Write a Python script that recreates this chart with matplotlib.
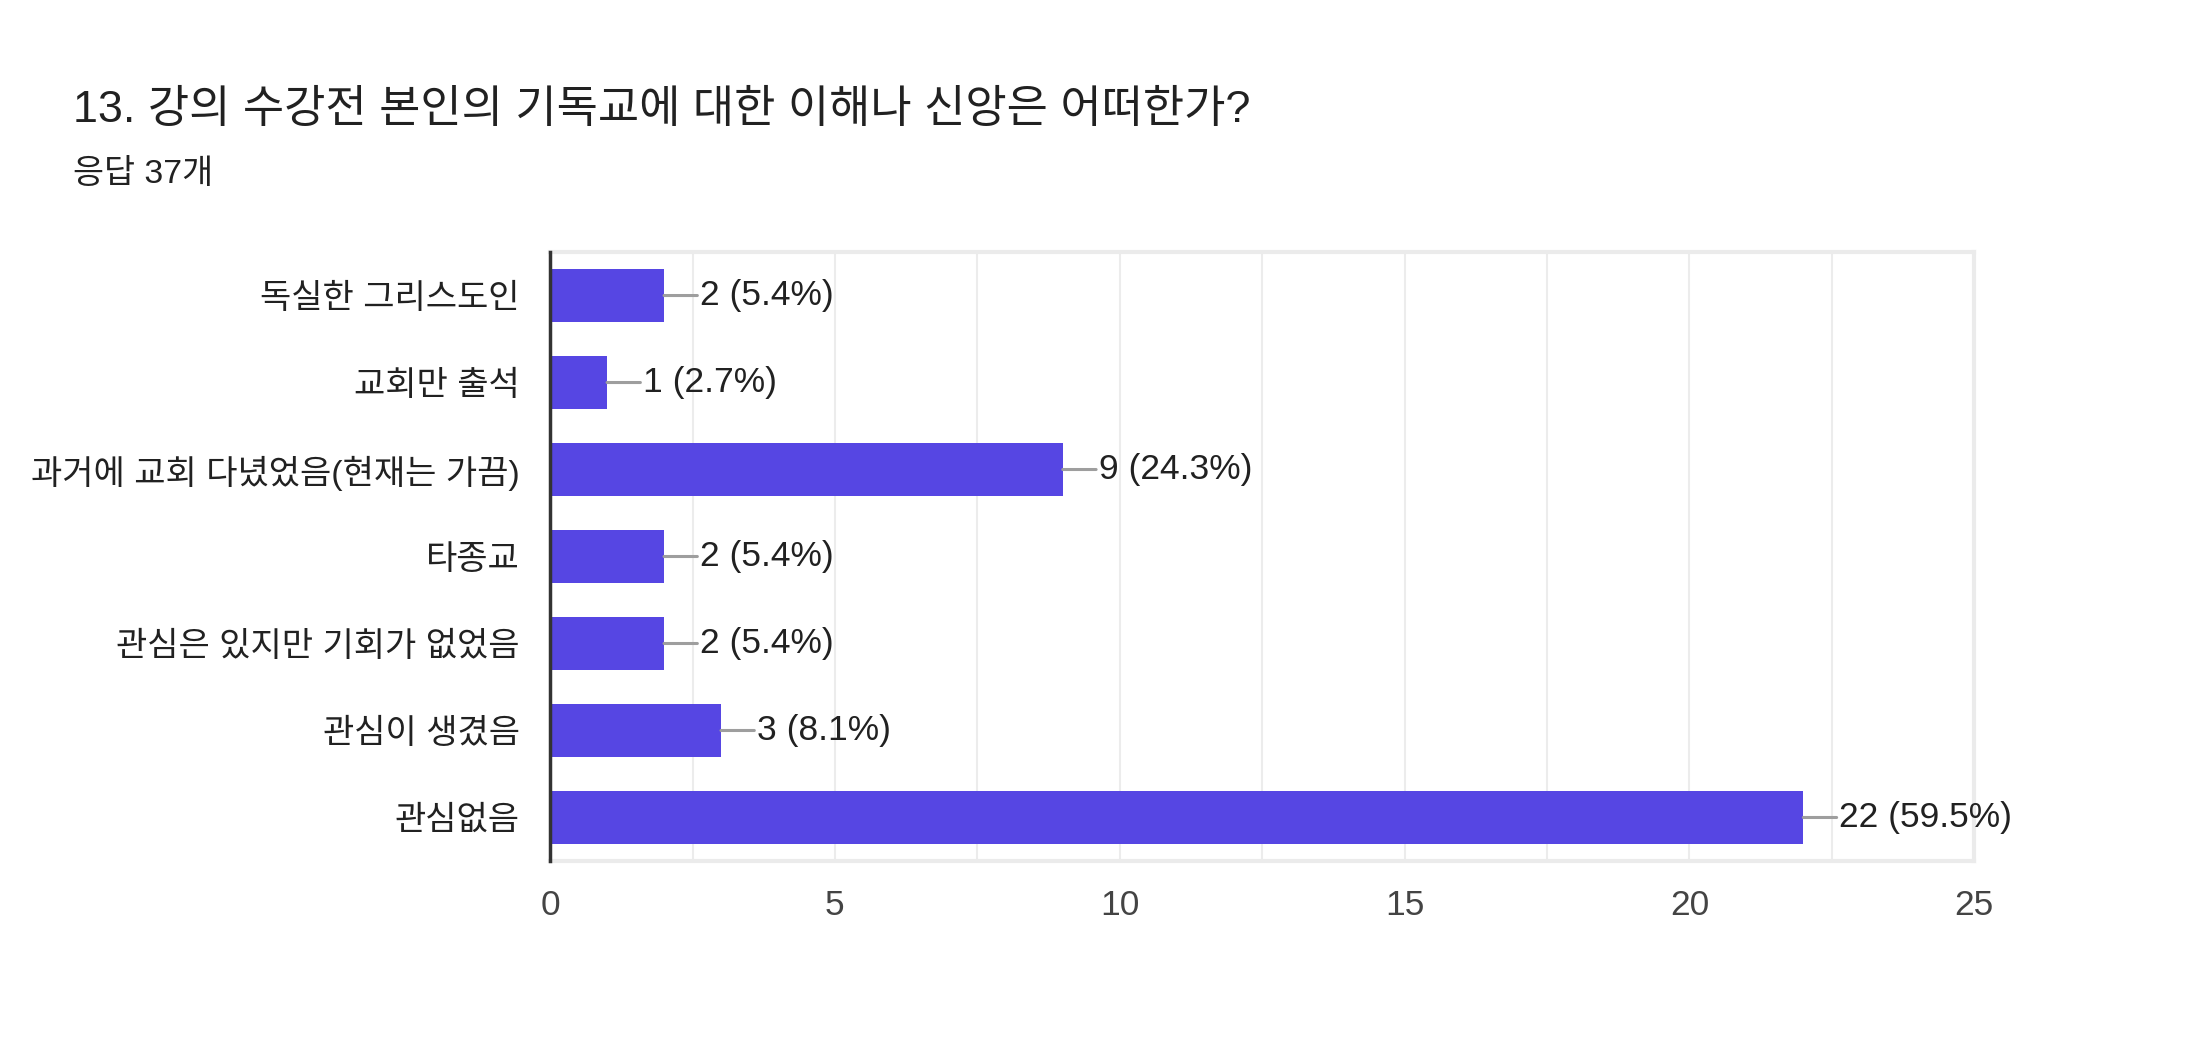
import matplotlib
matplotlib.use("Agg")
import matplotlib.pyplot as plt
from matplotlib.ticker import MultipleLocator

plt.rcParams['font.family'] = ['Liberation Sans', 'Noto Sans CJK KR', 'DejaVu Sans']

# 데이터
title = "13. 강의 수강전 본인의 기독교에 대한 이해나 신앙은 어떠한가?"
subtitle = "응답 37개"
categories = ["독실한 그리스도인", "교회만 출석", "과거에 교회 다녔었음(현재는 가끔)",
              "타종교", "관심은 있지만 기회가 없었음", "관심이 생겼음", "관심없음"]
counts = [2, 1, 9, 2, 2, 3, 22]
percents = [5.4, 2.7, 24.3, 5.4, 5.4, 8.1, 59.5]
xticks = [0, 5, 10, 15, 20, 25]

bar_color = "#5646E3"

fig = plt.figure(figsize=(21.96, 10.44), dpi=100)
ax = fig.add_axes([0.2505, 0.1753, 0.6485, 0.5833])

pos = list(range(len(categories)))
ax.barh(pos, counts, height=0.61, color=bar_color, zorder=3)

for i, (c, p) in enumerate(zip(counts, percents)):
    ax.annotate(f"{c} ({p}%)", xy=(c, i), xytext=(26, 0), textcoords="offset points",
                va="center", ha="left", fontsize=25.5, color="#212121",
                arrowprops=dict(arrowstyle="-", color="#9e9e9e", lw=2.2,
                                shrinkA=0, shrinkB=0, relpos=(0, 0.5)))

ax.set_ylim(len(categories) - 0.5, -0.5)
ax.set_xlim(0, 25)
ax.set_yticks(pos)
ax.set_yticklabels(categories, fontsize=24.5, color="#212121")
ax.set_xticks(xticks)
ax.set_xticklabels([str(t) for t in xticks], fontsize=25.5, color="#444444")
ax.xaxis.set_minor_locator(MultipleLocator(2.5))
ax.tick_params(axis="both", which="both", length=0)
ax.tick_params(axis="y", pad=22)
ax.tick_params(axis="x", pad=20)
ax.grid(True, axis="x", which="both", color="#ececec", lw=1.5, zorder=0)

for s in ["top", "right", "bottom"]:
    ax.spines[s].set_color("#ebebeb")
    ax.spines[s].set_linewidth(3)
ax.spines["left"].set_color("#333333")
ax.spines["left"].set_linewidth(2.5)
ax.spines["left"].set_zorder(4)

fig.text(0.0333, 0.883, title, fontsize=32.3, color="#212121", va="baseline")
fig.text(0.0333, 0.825, subtitle, fontsize=24.3, color="#212121", va="baseline")

fig.savefig("out.png", dpi=100, facecolor="white")
